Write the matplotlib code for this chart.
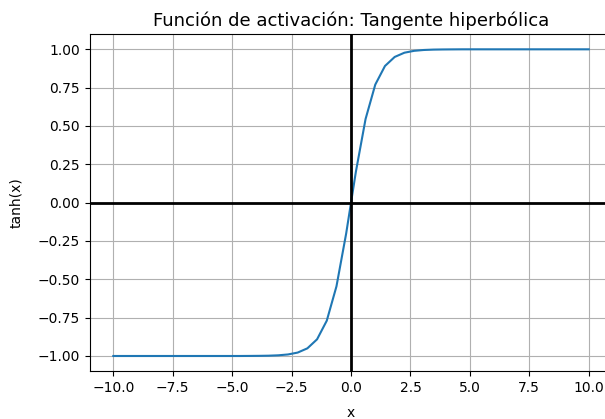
import matplotlib
matplotlib.use("Agg")
import matplotlib.pyplot as plt

# Valores (50 puntos entre -10 y 10)
x_vals = [-10.0, -9.5918, -9.1837, -8.7755, -8.3673, -7.9592, -7.5510, -7.1429,
          -6.7347, -6.3265, -5.9184, -5.5102, -5.1020, -4.6939, -4.2857, -3.8776,
          -3.4694, -3.0612, -2.6531, -2.2449, -1.8367, -1.4286, -1.0204, -0.6122,
          -0.2041,
          0.2041, 0.6122, 1.0204, 1.4286, 1.8367, 2.2449, 2.6531, 3.0612,
          3.4694, 3.8776, 4.2857, 4.6939, 5.1020, 5.5102, 5.9184, 6.3265,
          6.7347, 7.1429, 7.5510, 7.9592, 8.3673, 8.7755, 9.1837, 9.5918, 10.0]
y_vals = [-1.0, -1.0, -1.0, -1.0, -1.0, -1.0, -1.0, -1.0,
          -1.0, -1.0, -1.0, -1.0, -1.0, -1.0, -0.9996, -0.9991,
          -0.9981, -0.9956, -0.9901, -0.9778, -0.9502, -0.8913, -0.7699, -0.5457,
          -0.2013,
          0.2013, 0.5457, 0.7699, 0.8913, 0.9502, 0.9778, 0.9901, 0.9956,
          0.9981, 0.9991, 0.9996, 1.0, 1.0, 1.0, 1.0, 1.0,
          1.0, 1.0, 1.0, 1.0, 1.0, 1.0, 1.0, 1.0, 1.0]

fig = plt.figure(figsize=(6.05, 4.19), dpi=100)
# la figura original esta recortada por la derecha
ax = fig.add_axes([0.148, 0.1138, 1.0124 - 0.148, 0.9189 - 0.1138])

ax.plot(x_vals, y_vals, color="#1f77b4")
ax.axhline(0, color="k", linewidth=2)
ax.axvline(0, color="k", linewidth=2)
ax.grid(True)

ax.set_title("Función de activación: Tangente hiperbólica", fontsize=13)
ax.set_xlabel("x", labelpad=8)
ax.set_ylabel("tanh(x)", labelpad=10)

fig.savefig("out.png", dpi=100)
